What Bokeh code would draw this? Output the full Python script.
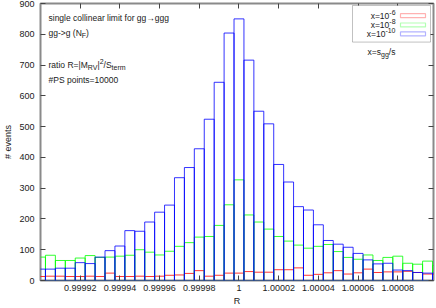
from bokeh.plotting import figure
from bokeh.models import Range1d, LinearAxis, FixedTicker, Label, BoxAnnotation, ColumnDataSource
from bokeh.embed import file_html
from bokeh.resources import INLINE

# ---------------- data ----------------
BIN_WIDTH = 5e-6
R_CENTERS = [round(0.9999 + k * BIN_WIDTH, 7) for k in range(41)]

counts_x1e6 = [13, 14, 14, 13, 13, 14, 13, 24, 13, 13, 14, 13, 14, 17, 18, 23, 32, 14, 17, 24,
               24, 29, 27, 27, 35, 35, 41, 17, 20, 25, 32, 21, 25, 37, 26, 28, 28, 30, 26, 21, 20]
counts_x1e8 = [76, 82, 65, 65, 73, 81, 75, 76, 79, 82, 100, 92, 83, 95, 111, 123, 141, 143, 179, 246,
               327, 213, 190, 167, 143, 128, 115, 105, 111, 117, 94, 75, 69, 83, 65, 75, 79, 56, 53, 63, 49]
counts_x1e10 = [37, 37, 40, 40, 58, 55, 76, 97, 112, 162, 160, 190, 222, 245, 334, 367, 428, 524, 644, 804,
                850, 716, 550, 509, 377, 320, 240, 229, 181, 130, 118, 108, 88, 67, 54, 56, 34, 32, 26, 24, 24]

SERIES = [counts_x1e6, counts_x1e8, counts_x1e10]
SERIES_BASE = ["x=10", "x=10", "x=10"]
SERIES_SUP = ["-6", "-8", "-10"]
COLORS = ["#ff0000", "#00ff00", "#0000ff"]

X_TICKS = [0.99992, 0.99994, 0.99996, 0.99998, 1.0, 1.00002, 1.00004, 1.00006, 1.00008]
X_TICK_LABELS = ["0.99992", "0.99994", "0.99996", "0.99998", "1", "1.00002", "1.00004", "1.00006", "1.00008"]
Y_TICKS = [0, 100, 200, 300, 400, 500, 600, 700, 800, 900]

# ---------------- layout ----------------
W, H = 436, 308
FL, FR, FT, FB = 40, 433, 3, 283
X0, X1 = 0.9999, 1.000098
Y0, Y1 = 0, 900
FONT = "Liberation Sans"
TXT = "#1a1a1a"

p = figure(width=W, height=H, x_range=Range1d(X0, X1), y_range=Range1d(Y0, Y1),
           output_backend="svg", toolbar_location=None,
           min_border_left=FL, min_border_right=W - FR, min_border_top=FT, min_border_bottom=H - FB,
           x_axis_label="R", y_axis_label="# events")
p.grid.visible = False
p.background_fill_color = "white"
p.border_fill_color = "white"
p.outline_line_color = "#8a8a8a"
p.outline_line_width = 2

xt = FixedTicker(ticks=X_TICKS)
yt = FixedTicker(ticks=Y_TICKS)

for ax in p.xaxis + p.yaxis:
    ax.axis_line_color = None
    ax.major_tick_in = 5
    ax.major_tick_out = 0
    ax.major_tick_line_color = "#444444"
    ax.minor_tick_line_color = None
    ax.major_label_text_font = FONT
    ax.major_label_text_font_size = "9px"
    ax.major_label_text_color = TXT
    ax.axis_label_text_font = FONT
    ax.axis_label_text_font_size = "9px"
    ax.axis_label_text_font_style = "normal"
    ax.axis_label_text_color = TXT

p.xaxis.ticker = xt
p.xaxis.major_label_overrides = {t: l for t, l in zip(X_TICKS, X_TICK_LABELS)}
p.xaxis.major_label_standoff = 4
p.xaxis.axis_label_standoff = 2
p.yaxis.ticker = yt
p.yaxis.major_label_standoff = 6
p.yaxis.axis_label_standoff = 3

for loc, tk in (("above", xt), ("right", yt)):
    ax = LinearAxis(ticker=tk, axis_line_color=None, major_tick_in=5, major_tick_out=0,
                    major_tick_line_color="#444444", minor_tick_line_color=None,
                    major_label_text_font_size="1px", major_label_text_color=None,
                    major_label_standoff=0)
    p.add_layout(ax, loc)

# ---------------- histograms ----------------
for counts, color in zip(SERIES, COLORS):
    src = ColumnDataSource(dict(
        left=[c - BIN_WIDTH / 2 for c in R_CENTERS],
        right=[c + BIN_WIDTH / 2 for c in R_CENTERS],
        top=counts,
        bottom=[0] * len(counts),
    ))
    p.quad(left="left", right="right", top="top", bottom="bottom", source=src,
           fill_color=None, line_color=color, line_width=1, line_alpha=0.8)


# ---------------- annotations ----------------
def dx(px):
    return X0 + (px - FL) / (FR - FL) * (X1 - X0)


def dy(py):
    return Y0 + (FB - py) / (FB - FT) * (Y1 - Y0)


def txt(px, py, text, size=8.5, align="left"):
    p.add_layout(Label(x=dx(px), y=dy(py), text=text, text_font=FONT, text_font_size=f"{size}px",
                       text_align=align, text_baseline="middle", text_color=TXT, level="overlay"))


TX = 48
txt(TX, 18, "single collinear limit for gg\u2192ggg")
txt(TX, 33, "gg->g (N")
txt(TX + 33.3, 35.5, "F", 7)
txt(TX + 37.6, 33, ")")
txt(TX, 65, "ratio R=|M")
txt(TX + 39.3, 67.5, "RV", 7)
txt(TX + 49.0, 65, "|")
txt(TX + 51.2, 61.5, "2", 7)
txt(TX + 55.1, 65, "/S")
txt(TX + 63.1, 67.5, "term", 7)
txt(TX, 80, "#PS points=10000")

# legend box (drawn below the legend texts)
p.add_layout(BoxAnnotation(left=dx(352), right=dx(430), top=dy(5), bottom=dy(42),
                           fill_color="white", fill_alpha=1, line_color="#333333", line_width=1,
                           level="annotation"))
LEG_Y = [15.3, 24.7, 33.7]
SUP_W = {"-6": 6.2, "-8": 6.2, "-10": 10.1}
for base, sup, color, ly in zip(SERIES_BASE, SERIES_SUP, COLORS, LEG_Y):
    sx = 395 - SUP_W[sup]
    txt(sx, ly, base, 8.5, "right")
    txt(sx, ly - 3.5, sup, 7)
    p.add_layout(BoxAnnotation(left=dx(400), right=dx(425), top=dy(ly - 2), bottom=dy(ly + 2),
                               fill_color=None, line_color=color, line_width=1.2, level="overlay"))

txt(367, 52.3, "x=s")
txt(380.5, 54.8, "gg", 7)
txt(388.3, 52.3, "/s")

open("out.html", "w").write(file_html(p, INLINE))
